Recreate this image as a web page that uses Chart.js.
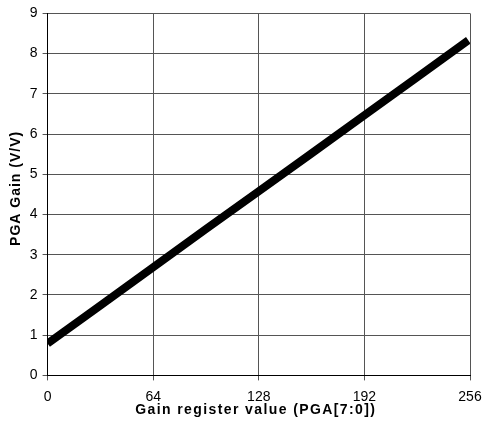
<!DOCTYPE html>
<html>
<head>
<meta charset="utf-8">
<script src="https://cdn.jsdelivr.net/npm/chart.js@4"></script>
<style>
  html, body { margin: 0; padding: 0; background: #fff; }
  #wrap { width: 484px; height: 425px; }
</style>
</head>
<body>
<div id="wrap"><canvas id="gainChart"></canvas></div>
<script>
const registerValues = [0, 32, 64, 96, 128, 160, 192, 224, 255]
const gainValues = [0.79, 1.74, 2.69, 3.64, 4.58, 5.52, 6.47, 7.41, 8.33]
const xTicks = [0, 64, 128, 192, 256]

const points = registerValues.map((x, i) => ({ x: x, y: gainValues[i] }))

// axis titles in the original are letter-spaced, chart.js has no option for it
function spacedTitle(axis, spacing, dx, dy) {
  if (axis._spaced) return
  axis._spaced = true
  const orig = axis.drawTitle.bind(axis)
  axis.drawTitle = function () {
    const ctx = axis.ctx
    ctx.save()
    ctx.letterSpacing = spacing
    ctx.translate(dx, dy)
    orig()
    ctx.restore()
  }
}

new Chart(document.getElementById('gainChart'), {
  type: 'scatter',
  data: {
    datasets: [{
      data: points,
      showLine: true,
      borderColor: '#000',
      backgroundColor: '#000',
      borderWidth: 8,
      borderCapStyle: 'butt',
      pointRadius: 0
    }]
  },
  options: {
    responsive: true,
    maintainAspectRatio: false,
    animation: false,
    layout: { padding: { top: 13, right: 0, left: 8, bottom: 6 } },
    plugins: { legend: { display: false }, tooltip: { enabled: false } },
    scales: {
      x: {
        type: 'linear',
        min: 0,
        max: 256,
        afterBuildTicks: axis => { axis.ticks = xTicks.map(v => ({ value: v })) },
        afterFit: axis => { axis.paddingRight = 14; spacedTitle(axis, '1.4px', -3, 0) },
        ticks: { color: '#000', font: { family: 'Liberation Sans', size: 14 }, padding: 8, maxRotation: 0 },
        grid: { color: '#555', lineWidth: 1, tickLength: 5, tickColor: '#555' },
        border: { color: '#000', width: 1 },
        title: {
          display: true,
          text: 'Gain register value (PGA[7:0])',
          color: '#000',
          font: { family: 'Liberation Sans', size: 14, weight: 'bold' },
          padding: { top: -11, bottom: 0 }
        }
      },
      y: {
        min: 0,
        max: 9,
        afterFit: axis => { spacedTitle(axis, '1px', 0, -6) },
        ticks: { stepSize: 1, color: '#000', font: { family: 'Liberation Sans', size: 14 }, padding: 5 },
        grid: { color: '#555', lineWidth: 1, tickLength: 5, tickColor: '#555' },
        border: { color: '#000', width: 1 },
        title: {
          display: true,
          text: 'PGA Gain (V/V)',
          color: '#000',
          font: { family: 'Liberation Sans', size: 14, weight: 'bold' },
          padding: { top: 0, bottom: 0 }
        }
      }
    }
  }
})
</script>
</body>
</html>
